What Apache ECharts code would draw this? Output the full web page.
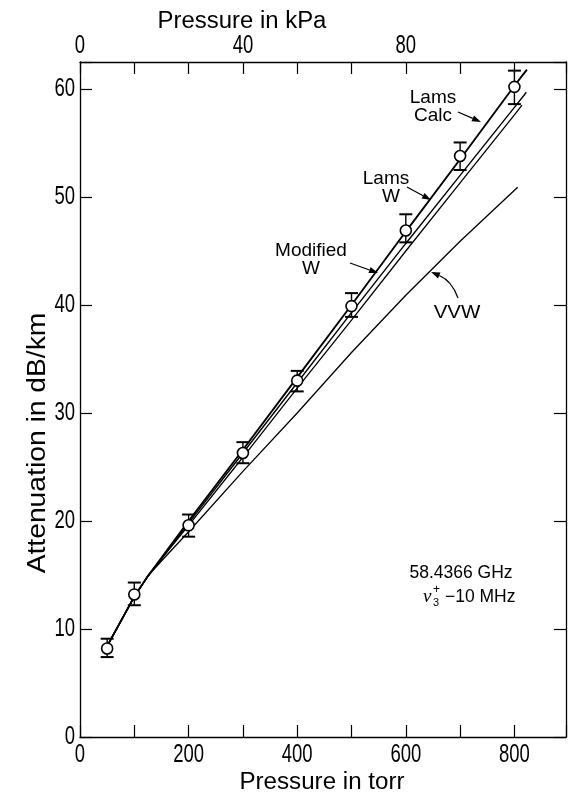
<!DOCTYPE html>
<html>
<head>
<meta charset="utf-8">
<script src="https://cdn.jsdelivr.net/npm/echarts@6/dist/echarts.min.js"></script>
<style>
  html, body { margin: 0; padding: 0; background: #fff; }
  #chart { width: 568px; height: 795px; }
</style>
</head>
<body>
<div id="chart"></div>
<script>
// Measured attenuation (dB/km) vs pressure (torr), with error-bar limits
const pointP  = [50, 100, 200, 300, 400, 500, 600, 700, 800];
const pointDb = [8.2, 13.2, 19.6, 26.3, 33.0, 39.9, 46.9, 53.8, 60.2];
const pointLo = [7.4, 12.2, 18.55, 25.35, 32.0, 38.9, 45.8, 52.5, 58.6];
const pointHi = [9.1, 14.3, 20.6, 27.3, 33.9, 41.1, 48.4, 55.05, 61.7];

// Calculated line-shape curves
const calcP   = [52, 100, 125, 150, 200, 300, 400, 500, 600, 700, 800, 823];
const calcDb  = [8.6, 13.0, 14.9, 16.6, 20.0, 26.6, 33.3, 40.0, 46.8, 53.5, 60.3, 61.8];
const lamsWP  = [52, 100, 125, 150, 200, 300, 400, 500, 600, 700, 800, 822];
const lamsWDb = [8.6, 13.0, 14.9, 16.5, 19.8, 26.3, 32.8, 39.3, 45.7, 52.0, 58.3, 59.7];
const modWP   = [52, 100, 125, 150, 200, 300, 400, 500, 600, 700, 800, 814];
const modWDb  = [8.6, 13.0, 14.9, 16.5, 19.6, 25.9, 32.3, 38.6, 45.0, 51.3, 57.6, 58.5];
const vvwP    = [52, 100, 125, 150, 200, 300, 400, 500, 600, 700, 806];
const vvwDb   = [8.6, 13.0, 14.9, 16.3, 19.0, 24.6, 30.0, 35.6, 40.9, 45.9, 50.9];

// Axis tick labels
const torrTickLabels = [0, 200, 400, 600, 800];
const kPaTickLabels  = [0, 40, 80];
const dbTickLabels   = [0, 10, 20, 30, 40, 50, 60];
const TORR_PER_KPA = 7.50062;
const X_MAX = 895;
const Y_MAX = 62.5;

const LABEL_FONT = "'Liberation Sans', Arial, sans-serif";
const black = '#000';

const zip = (xs, ys) => xs.map((x, i) => [x, ys[i]]);

const chart = echarts.init(document.getElementById('chart'), null, { renderer: 'canvas' });

const axisCommon = {
  type: 'value',
  axisLine: { show: true, onZero: false, lineStyle: { color: black, width: 1.3 } },
  axisTick: { show: true, inside: true, length: 12, lineStyle: { color: black, width: 1.2 } },
  splitLine: { show: false },
  // tick labels are drawn as condensed graphic text below
  axisLabel: { show: false }
};

function curve(name, xs, ys, width) {
  return {
    name, type: 'line', data: zip(xs, ys), showSymbol: false, symbol: 'none',
    lineStyle: { color: black, width }, z: 2, animation: false, silent: true
  };
}

// Arrow annotation: shaft (straight or curved) plus filled head at (x2, y2)
function arrow(x1, y1, x2, y2, cx, cy) {
  const fromX = cx !== undefined ? cx : x1;
  const fromY = cy !== undefined ? cy : y1;
  const ang = Math.atan2(y2 - fromY, x2 - fromX);
  const len = 9, half = 3.2;
  const bx = x2 - len * Math.cos(ang), by = y2 - len * Math.sin(ang);
  const head = [
    [x2, y2],
    [bx + half * Math.sin(ang), by - half * Math.cos(ang)],
    [bx - half * Math.sin(ang), by + half * Math.cos(ang)]
  ];
  const shaft = cx !== undefined
    ? { type: 'bezierCurve', shape: { x1, y1, x2: bx, y2: by, cpx1: cx, cpy1: cy }, style: { stroke: black, lineWidth: 1.2, fill: null } }
    : { type: 'line', shape: { x1, y1, x2: bx, y2: by }, style: { stroke: black, lineWidth: 1.2 } };
  return { type: 'group', children: [shaft, { type: 'polygon', shape: { points: head }, style: { fill: black } }] };
}

function text(str, x, y, size, align, vAlign, extra) {
  return Object.assign({
    type: 'text', x, y, silent: true,
    style: {
      text: str, font: size + 'px ' + LABEL_FONT, fill: black,
      align, verticalAlign: vAlign, textAlign: align, textVerticalAlign: vAlign
    }
  }, extra || {});
}
const label = (str, x, y, size, extra) => text(str, x, y, size, 'center', 'middle', extra);

chart.setOption({
  animation: false,
  backgroundColor: '#fff',
  grid: { left: 80, right: 2, top: 62, bottom: 58, containLabel: false },
  xAxis: [
    Object.assign({}, axisCommon, { position: 'bottom', min: 0, max: X_MAX, interval: 100 }),
    Object.assign({}, axisCommon, { position: 'top', min: 0, max: X_MAX, interval: 100 })
  ],
  yAxis: [
    Object.assign({}, axisCommon, { position: 'left', min: 0, max: Y_MAX, interval: 10 }),
    Object.assign({}, axisCommon, { position: 'right', min: 0, max: Y_MAX, interval: 10 })
  ],
  series: [
    curve('VVW', vvwP, vvwDb, 1.3),
    curve('Modified W', modWP, modWDb, 1.3),
    curve('Lams W', lamsWP, lamsWDb, 1.4),
    curve('Lams Calc', calcP, calcDb, 1.9),
    {
      name: 'error', type: 'custom', silent: true, z: 3,
      data: pointP.map((p, i) => [p, pointLo[i], pointHi[i]]),
      encode: { x: 0, y: [1, 2] },
      renderItem: (params, api) => {
        const x = api.value(0);
        const lo = api.coord([x, api.value(1)]);
        const hi = api.coord([x, api.value(2)]);
        const hw = 6.5;
        return {
          type: 'group',
          children: [
            { type: 'line', shape: { x1: lo[0], y1: lo[1], x2: hi[0], y2: hi[1] }, style: { stroke: black, lineWidth: 1.4 } },
            { type: 'line', shape: { x1: lo[0] - hw, y1: lo[1], x2: lo[0] + hw, y2: lo[1] }, style: { stroke: black, lineWidth: 2 } },
            { type: 'line', shape: { x1: hi[0] - hw, y1: hi[1], x2: hi[0] + hw, y2: hi[1] }, style: { stroke: black, lineWidth: 2 } }
          ]
        };
      }
    },
    {
      name: 'measured', type: 'scatter', data: zip(pointP, pointDb), z: 4, silent: true,
      symbol: 'circle', symbolSize: 11,
      itemStyle: { color: '#fff', borderColor: black, borderWidth: 1.6, opacity: 1 }
    }
  ]
});

// Tick labels: tall condensed digits placed at the axes' own pixel positions
const TICK_SIZE = 25, TICK_SQUEEZE = 0.74;
const xPix = v => chart.convertToPixel({ xAxisIndex: 0 }, v);
const yPix = v => chart.convertToPixel({ yAxisIndex: 0 }, v);
const axisBottom = yPix(0), axisTop = yPix(Y_MAX), axisLeft = xPix(0);
const tickLabels = [];
torrTickLabels.forEach(v => tickLabels.push(
  text(String(v), xPix(v), axisBottom + 6, TICK_SIZE, 'center', 'top', { scaleX: TICK_SQUEEZE })));
kPaTickLabels.forEach(v => tickLabels.push(
  text(String(v), xPix(v * TORR_PER_KPA), axisTop - 3, TICK_SIZE, 'center', 'bottom', { scaleX: TICK_SQUEEZE })));
dbTickLabels.forEach(v => tickLabels.push(
  text(String(v), axisLeft - 5, yPix(v), TICK_SIZE, 'right', 'middle', { scaleX: TICK_SQUEEZE })));

chart.setOption({
  graphic: tickLabels.concat([
    label('Pressure in kPa', 242, 22, 23, { scaleX: 1.04 }),
    label('Pressure in torr', 322, 783, 23, { scaleX: 1.05 }),
    label('Attenuation in dB/km', 38, 443, 25, { rotation: Math.PI / 2, scaleX: 1.13 }),
    label('Lams', 433, 98, 19),
    label('Calc', 433, 116, 19),
    label('Lams', 386, 179, 19),
    label('W', 391, 197, 19),
    label('Modified', 311, 251, 19),
    label('W', 311, 269, 19),
    label('VVW', 457, 313, 19, { scaleX: 1.08 }),
    arrow(458, 112, 481, 122),
    arrow(407, 187, 431, 200),
    arrow(350, 263, 378, 273),
    arrow(458, 298, 431, 272, 452, 281),
    label('58.4366 GHz', 461, 573, 17.5),
    {
      type: 'group', children: [
        text('ν', 423, 597, 19, 'left', 'middle', { style: { text: 'ν', font: 'italic 19px "Liberation Serif", serif', fill: black, align: 'left', verticalAlign: 'middle', textAlign: 'left', textVerticalAlign: 'middle' } }),
        text('+', 433, 590, 12, 'left', 'middle'),
        text('3', 433, 603, 11, 'left', 'middle'),
        text('−10 MHz', 445, 597, 17.5, 'left', 'middle')
      ]
    }
  ])
});
</script>
</body>
</html>
